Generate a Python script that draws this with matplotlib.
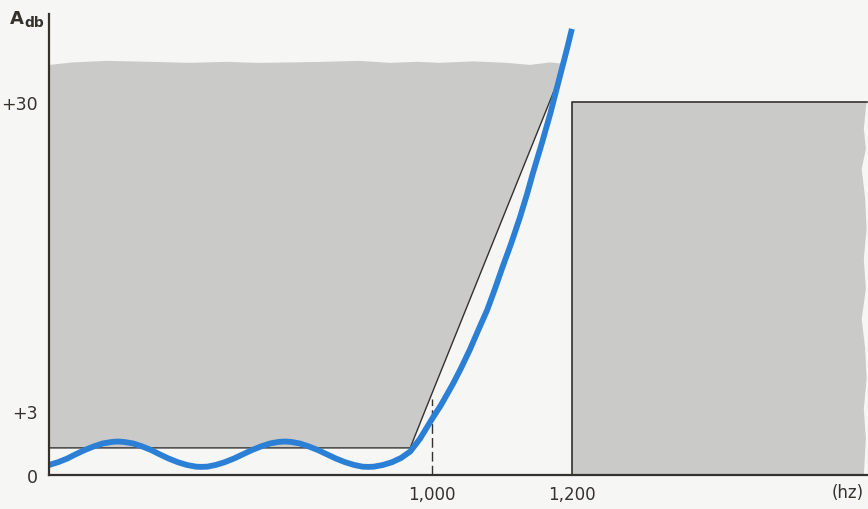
"""Schematic low-pass filter response against a tolerance mask."""

import numpy as np
import matplotlib.pyplot as plt

# measured filter response (blue curve): ripple in the passband, then the skirt
FREQ = [453, 466, 479, 491, 504, 517, 530, 543, 551, 560, 573, 586, 599, 611,
        624, 637, 650, 663, 670, 679, 691, 704, 717, 730, 743, 756, 769, 781,
        790, 799, 811, 824, 837, 850, 863, 876, 889, 901, 909, 917, 930, 943,
        956, 969, 983, 1001, 1013, 1030, 1041, 1054, 1067, 1079, 1090, 1101,
        1113, 1126, 1136, 1144, 1157, 1169, 1183, 1193, 1200]
RESPONSE = [0.47, 0.60, 0.77, 0.97, 1.17, 1.34, 1.48, 1.55, 1.57, 1.55, 1.48, 1.34, 1.17, 0.97,
            0.77, 0.60, 0.47, 0.39, 0.38, 0.39, 0.47, 0.60, 0.77, 0.97, 1.17, 1.34, 1.48, 1.55,
            1.57, 1.55, 1.48, 1.34, 1.17, 0.97, 0.77, 0.60, 0.47, 0.39, 0.38, 0.39, 0.47, 0.60,
            0.80, 1.10, 1.70, 2.67, 3.52, 5.36, 6.67, 8.33, 10.17, 11.83, 13.66, 15.59,
            17.60, 19.96, 21.97, 23.72, 26.38, 28.96, 32.28, 34.64, 36.39]

# passband mask (left gray area): bottom edge, slope, torn top edge
MASK_FREQ = [453, 969, 990, 1190, 1169, 1140, 1107, 1059, 1011, 979, 940, 897,
             844, 801, 750, 707, 654, 597, 536, 487, 454, 453]
MASK_DB = [1.27, 1.27, 3.0, 33.33, 33.46, 33.24, 33.42, 33.55, 33.42, 33.51, 33.42, 33.59,
           33.51, 33.46, 33.42, 33.51, 33.42, 33.51, 33.59, 33.46, 33.24, 33.24]

# stopband mask (right gray area) with torn right edge
STOP_FREQ = [1200, 1200, 1621, 1617, 1620, 1614, 1619, 1621, 1617, 1620,
             1614, 1619, 1621, 1617, 1620, 1617]
STOP_DB = [0, 30, 30, 27.65, 25.90, 24.15, 21.53, 18.91, 16.29, 13.66,
           11.04, 8.42, 5.80, 3.17, 1.69, 0]

CUTOFF = 1000
CUTOFF_TOP = 4.05

Y_TICKS = [0, 3, 30]
Y_LABELS = ["0", "+3", "+30"]
X_TICKS = [1000, 1200]
X_LABELS = ["1,000", "1,200"]

INK = "#35312d"
GRAY = "#cacac8"
BLUE = "#2b80d6"
PAPER = "#f6f6f4"

# the drawing is schematic: 0..3 dB is stretched relative to 3..30 dB
DB_KNOTS = [-10, 0, 3, 30, 60]
POS_KNOTS = [-213.3, 0, 64, 373, 716.2]


def forward(y):
    return np.interp(y, DB_KNOTS, POS_KNOTS)


def inverse(p):
    return np.interp(p, POS_KNOTS, DB_KNOTS)


def main():
    plt.rcParams["font.family"] = ["DejaVu Sans"]

    fig = plt.figure(figsize=(8.68, 5.10), dpi=100, facecolor=PAPER)
    ax = fig.add_axes([49 / 868, 34 / 510, 819 / 868, 461 / 510])
    ax.set_facecolor(PAPER)
    ax.set_yscale("function", functions=(forward, inverse))
    ax.set_xlim(453, 1623)
    ax.set_ylim(0, 37.69)

    ax.fill(MASK_FREQ, MASK_DB, color=GRAY, lw=0, zorder=1)
    ax.fill(STOP_FREQ, STOP_DB, color=GRAY, lw=0, zorder=1)

    # mask outlines
    ax.plot(MASK_FREQ[:4], MASK_DB[:4], color=INK, lw=1.0, zorder=2)
    ax.plot(STOP_FREQ[:3], STOP_DB[:3], color=INK, lw=1.2, zorder=2)
    ax.plot([CUTOFF, CUTOFF], [0, CUTOFF_TOP], color=INK, lw=1.0,
            dashes=(7, 3), zorder=2)

    ax.plot(FREQ, RESPONSE, color=BLUE, lw=4.2, solid_capstyle="butt",
            solid_joinstyle="round", zorder=3)

    for side in ("top", "right"):
        ax.spines[side].set_visible(False)
    for side in ("left", "bottom"):
        ax.spines[side].set_color(INK)
        ax.spines[side].set_linewidth(1.6)
        ax.spines[side].set_zorder(4)

    ax.set_yticks(Y_TICKS, Y_LABELS)
    ax.set_xticks(X_TICKS, X_LABELS)
    ax.yaxis.set_minor_locator(plt.NullLocator())
    ax.tick_params(axis="y", length=0, pad=8, labelsize=12.5, labelcolor=INK)
    ax.tick_params(axis="x", length=0, pad=7, labelsize=12, labelcolor=INK)

    fig.text(848 / 868, 1 - 493 / 510, "(hz)", ha="center", va="center",
             fontsize=12, color=INK)
    fig.text(10 / 868, 1 - 19 / 510, "A", ha="left", va="center",
             fontsize=13, fontweight="bold", color=INK)
    fig.text(24 / 868, 1 - 23 / 510, "db", ha="left", va="center",
             fontsize=10, fontweight="bold", color=INK)

    fig.savefig("out.png", dpi=100, facecolor=PAPER)


if __name__ == "__main__":
    main()
